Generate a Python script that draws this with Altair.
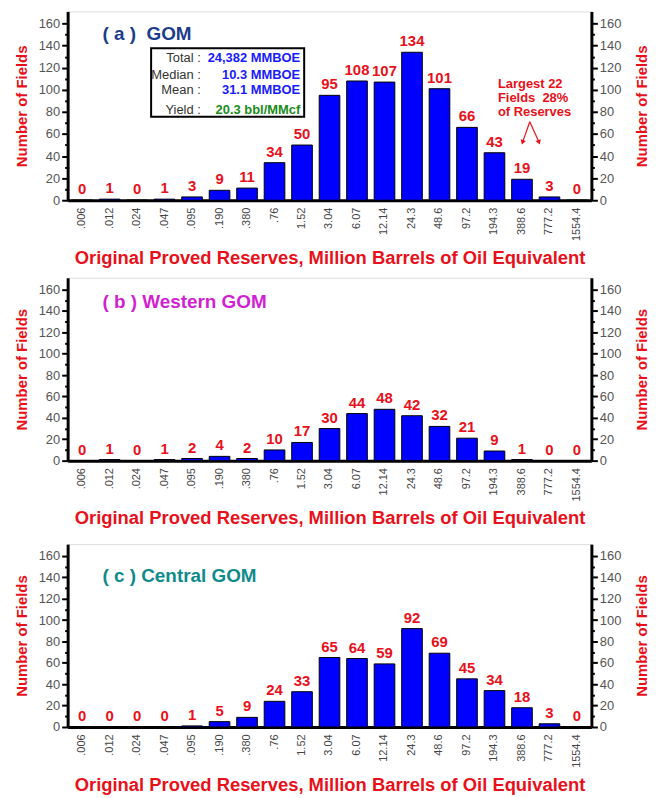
import altair as alt
import pandas as pd

categories = [".006", ".012", ".024", ".047", ".095", ".190", ".380", ".76", "1.52",
              "3.04", "6.07", "12.14", "24.3", "48.6", "97.2", "194.3", "388.6",
              "777.2", "1554.4"]
gom_counts = [0, 1, 0, 1, 3, 9, 11, 34, 50, 95, 108, 107, 134, 101, 66, 43, 19, 3, 0]
western_counts = [0, 1, 0, 1, 2, 4, 2, 10, 17, 30, 44, 48, 42, 32, 21, 9, 1, 0, 0]
central_counts = [0, 0, 0, 0, 1, 5, 9, 24, 33, 65, 64, 59, 92, 69, 45, 34, 18, 3, 0]

NB = "\u00a0"
panel_titles = [f"({NB}a{NB}){NB}{NB}GOM", f"({NB}b{NB}){NB}Western GOM",
                f"({NB}c{NB}){NB}Central GOM"]
panel_title_colors = ["#1c3c8c", "#d21fd2", "#0f8a8a"]

box_labels = ["Total :", "Median :", "Mean :", "Yield :"]
box_values = ["24,382 MMBOE", "10.3 MMBOE", "31.1 MMBOE", "20.3 bbl/MMcf"]
box_colors = ["#1a1aff", "#1a1aff", "#1a1aff", "#1a8c1a"]

note_lines = ["Largest 22", f"Fields{NB}{NB}28%", "of Reserves"]

RED = "#e8101a"
FONT = "Liberation Sans"
X_TITLE = "Original Proved Reserves, Million Barrels of Oil Equivalent"
Y_TITLE = "Number of Fields"
WIDTH = 527
YMAX = 171

tick_cond = {"condition": {"test": "datum.value % 20 == 0", "value": 6}, "value": 3}


def y_axis(orient):
    return alt.Axis(
        orient=orient, title=Y_TITLE, values=list(range(0, 170, 10)),
        labelExpr="datum.value % 20 == 0 ? datum.label : ''",
        tickSize=tick_cond, tickWidth=2, tickColor="black",
        domainColor="black", domainWidth=3, grid=False,
        labelColor="#555555", labelFontSize=13, labelFont=FONT, labelPadding=2,
        titleColor=RED, titleFontSize=15, titleFont=FONT, titleFontWeight="bold",
        titlePadding=9 if orient == "left" else 14, titleAngle=270,
        titleBaseline="bottom" if orient == "left" else "top",
    )


def panel(values, idx, height):
    df = pd.DataFrame({"cat": categories, "n": values})
    base = alt.Chart(df)
    x = alt.X(
        "cat:N", sort=categories,
        scale=alt.Scale(paddingInner=0.25, paddingOuter=0.15),
        axis=alt.Axis(
            title=X_TITLE, labelAngle=270, ticks=False, domainColor="black",
            domainWidth=3, labelColor="#444444", labelFontSize=11, labelFont=FONT,
            labelPadding=7, titleColor=RED, titleFontSize=18.5, titleFont=FONT,
            titleFontWeight="bold", titlePadding=8,
        ),
    )
    yscale = alt.Scale(domain=[0, YMAX], nice=False)
    bars = base.mark_bar(color="#0000ff", stroke="black", strokeWidth=1).encode(
        x=x, y=alt.Y("n:Q", scale=yscale, axis=y_axis("left"))
    )
    right = base.mark_bar(opacity=0).encode(
        x=x, y=alt.Y("n:Q", scale=yscale, axis=y_axis("right"))
    )
    labels = base.mark_text(
        dy=-11, color=RED, fontSize=15, fontWeight="bold", font=FONT
    ).encode(x=x, y=alt.Y("n:Q", scale=yscale, axis=None), text="n:Q")

    title_y = [23, 24, 32][idx]
    ttl = alt.Chart(pd.DataFrame({"t": [panel_titles[idx]]})).mark_text(
        align="left", baseline="middle", fontSize=19, fontWeight="bold",
        font=FONT, color=panel_title_colors[idx]
    ).encode(x=alt.value(35), y=alt.value(title_y), text="t:N")

    layers = [bars, right, labels, ttl]

    if idx == 0:
        box = alt.Chart(pd.DataFrame({"a": [0]})).mark_rect(
            fill="white", stroke="black", strokeWidth=2
        ).encode(x=alt.value(84), x2=alt.value(238), y=alt.value(37), y2=alt.value(106))
        layers.append(box)
        row_y = [47, 64, 79, 99]
        for i in range(len(box_labels)):
            lab = alt.Chart(pd.DataFrame({"t": [box_labels[i]]})).mark_text(
                align="right", baseline="middle", fontSize=13, font=FONT, color="#333333"
            ).encode(x=alt.value(134), y=alt.value(row_y[i]), text="t:N")
            val = alt.Chart(pd.DataFrame({"t": [box_values[i]]})).mark_text(
                align="right", baseline="middle", fontSize=13, fontWeight="bold",
                font=FONT, color=box_colors[i]
            ).encode(x=alt.value(234), y=alt.value(row_y[i]), text="t:N")
            layers += [lab, val]
        note_y = [73, 87, 101]
        for i, line in enumerate(note_lines):
            t = alt.Chart(pd.DataFrame({"t": [line]})).mark_text(
                align="left", baseline="middle", fontSize=13, fontWeight="bold",
                font=FONT, color=RED
            ).encode(x=alt.value(433), y=alt.value(note_y[i]), text="t:N")
            layers.append(t)
        for x2v, ang in [(458, 198), (474, 162)]:
            r = alt.Chart(pd.DataFrame({"a": [0]})).mark_rule(
                color=RED, strokeWidth=1.2
            ).encode(x=alt.value(465), y=alt.value(111), x2=alt.value(x2v), y2=alt.value(131))
            head = alt.Chart(pd.DataFrame({"a": [0]})).mark_point(
                shape="triangle", filled=True, color=RED, size=30, angle=ang, opacity=1
            ).encode(x=alt.value(x2v), y=alt.value(131))
            layers += [r, head]

    return alt.layer(*layers).resolve_scale(y="independent").properties(
        width=WIDTH, height=height
    )


lower = alt.vconcat(
    panel(western_counts, 1, 184),
    panel(central_counts, 2, 184),
    spacing=15,
)

chart = alt.vconcat(
    panel(gom_counts, 0, 190),
    lower,
    spacing=9,
).properties(
    padding={"left": 5, "top": 0, "right": 5, "bottom": 0}
).configure_view(
    stroke="black", strokeWidth=3
).configure(
    background="white"
)

chart.save("out.html", embed_options={"renderer": "svg", "actions": False})
